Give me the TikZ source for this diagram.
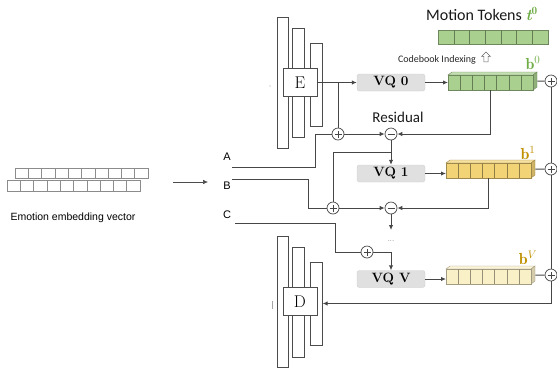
\documentclass[tikz,border=0pt]{standalone}
\usepackage{fontspec}
\usepackage{tikz}
\usetikzlibrary{arrows.meta, calc, positioning, shapes.arrows}
\newfontfamily\calibri{Carlito}
\newfontfamily\arial{Liberation Sans}
\definecolor{tokgreen}{RGB}{169,208,142}
\definecolor{tokyellow}{RGB}{242,211,118}
\definecolor{tokcream}{RGB}{250,240,200}
\definecolor{labgreen}{RGB}{112,173,71}
\definecolor{labgold}{RGB}{191,144,0}
\definecolor{wiregray}{RGB}{70,70,70}

\begin{document}
\begin{tikzpicture}[x=1pt, y=-1pt, every node/.style={inner sep=0pt},
  wire/.style={draw=wiregray, line width=1pt},
  arr/.style={wire, -{Latex[length=5pt, width=4.5pt]}},
  layerbar/.style={draw=black!70, fill=white, line width=0.8pt, minimum width=11.5pt},
  codebox/.style={draw=black!70, fill=white, line width=0.8pt, minimum width=34pt, minimum height=28pt, font=\fontsize{17}{17}\selectfont},
  vqbox/.style={draw=black!20, fill=black!12, rounded corners=2.5pt, minimum width=68pt, minimum height=17pt, font=\fontsize{13.5}{13.5}\selectfont\bfseries},
  sumnode/.style={circle, draw=wiregray, fill=white, line width=0.7pt, minimum size=12pt},
  plusnode/.style={sumnode, path picture={\draw[wiregray, line width=0.6pt] ([xshift=-3.5pt]path picture bounding box.center) -- ([xshift=3.5pt]path picture bounding box.center) ([yshift=-3.5pt]path picture bounding box.center) -- ([yshift=3.5pt]path picture bounding box.center);}},
  minusnode/.style={sumnode, path picture={\draw[wiregray, line width=0.6pt] ([xshift=-3.5pt]path picture bounding box.center) -- ([xshift=3.5pt]path picture bounding box.center);}},
  cell/.style={draw=black!45, line width=0.5pt},
  sidelab/.style={font=\arial\fontsize{11}{11}\selectfont},
  blab/.style={font=\fontsize{16}{16}\selectfont}]
  \useasboundingbox (0,0) rectangle (557,368);

  % emotion embedding
  \foreach \k in {0,...,9} {
    \draw[cell] (15+\k*13.3,168) rectangle ++(13.3,10);
    \draw[cell] (7+\k*13.3,180) rectangle ++(13.3,11);
  }
  \node[font=\arial\fontsize{10.5}{10.5}\selectfont] (embl) at (73,218) {Emotion embedding vector};
  \coordinate (embout) at (173,182);
  \coordinate (abcin) at (208,182);
  \draw[arr, draw=black!70, line width=0.6pt] (embout) -- (abcin);

  % encoder / decoder stacks
  \foreach \nm/\bx/\by/\bh in {ea/283/82.5/131, eb/298.5/82.5/109, ec/316.5/84.5/83, da/283/301.5/131, db/298.5/302/110, dc/316.5/303.5/83}
    \node[layerbar, minimum height=\bh pt] (\nm) at (\bx,\by) {};
  \node[codebox] (enc) at (300,82.5) {E};
  \node[codebox] (dec) at (300,301.5) {D};
  \fill[black!35] (270,86) circle (0.6);
  \draw[black!35, line width=0.6pt] (272,301) -- (272,309);

  % quantizers
  \node[vqbox] (vqz) at (391,82.5) {VQ 0};
  \node[vqbox] (vqo) at (391,173.5) {VQ 1};
  \node[vqbox] (vqv) at (391,279) {VQ V};

  % code bars
  \foreach \nm/\bx/\by/\fc in {bzero/448/75/tokgreen, bone/446/163/tokyellow, bvee/446/269/tokcream} {
    \filldraw[fill=\fc!70!white, draw=\fc!65!black, line width=0.4pt] (\bx,\by) -- ++(4,-3) -- ++(85,0) -- ++(-4,3) -- cycle;
    \filldraw[fill=\fc!85!black, draw=\fc!65!black, line width=0.4pt] (\bx+85,\by) -- ++(4,-3) -- ++(0,15) -- ++(-4,3) -- cycle;
    \node[draw=\fc!65!black, fill=\fc, line width=0.4pt, minimum width=85pt, minimum height=15pt, anchor=north west] (\nm) at (\bx,\by) {};
    \foreach \k in {1,...,6} \draw[\fc!60!black, line width=0.4pt] (\bx+\k*85/7,\by) -- ++(0,15);
  }
  \node[draw=tokgreen!65!black, fill=tokgreen, line width=0.4pt, minimum width=110pt, minimum height=14pt] (tokens) at (493,37) {};
  \foreach \k in {1,...,6} \draw[tokgreen!60!black, line width=0.4pt] (438+\k*110/7,30) -- ++(0,14);

  % sums
  \node[plusnode] (pz) at (551,81) {};
  \node[plusnode] (po) at (551,169) {};
  \node[plusnode] (pv) at (551,275) {};
  \node[plusnode] (pa) at (338,134) {};
  \node[minusnode] (ma) at (391,134) {};
  \node[plusnode] (pb) at (333,208) {};
  \node[minusnode] (mb) at (391,208) {};
  \node[plusnode] (pc) at (367,252) {};

  % texts
  \node[font=\calibri\fontsize{16}{16}\selectfont, text=black!90] (mt) at (482,14) {Motion Tokens \textcolor{labgreen}{{\rmfamily\bfseries\itshape t}$^{\mathbf{0}}$}};
  \node[font=\calibri\fontsize{10}{10}\selectfont, text=black!85] (cbi) at (437,60) {Codebook Indexing};
  \node[single arrow, draw=black!60, line width=0.5pt, shape border rotate=90, minimum height=10pt, minimum width=9pt, single arrow head extend=1.5pt, inner sep=1pt] (upar) at (486,58) {};
  \node[font=\calibri\fontsize{15}{15}\selectfont, text=black!90] (res) at (398,117) {Residual};
  \node[blab, text=labgreen] (lbz) at (533,63) {$\mathbf{b}^{0}$};
  \node[blab, text=labgold] (lbo) at (528,153) {$\mathbf{b}^{1}$};
  \node[blab, text=labgold] (lbv) at (528,258) {$\mathbf{b}^{V}$};
  \node[sidelab] (la) at (227,157) {A};
  \node[sidelab] (lb) at (227,186) {B};
  \node[sidelab] (lc) at (227,215) {C};
  \node[font=\fontsize{6}{6}\selectfont] (gap) at (391,241) {...};

  % wiring
  \coordinate (ain) at (232,167);
  \coordinate (bin) at (232,179);
  \coordinate (cin) at (235,223);
  \draw[arr] (enc.east) -- (vqz.west);
  \coordinate (ej) at (enc.east -| pa);
  \draw[wire] (ej) -- (pa.north);
  \draw[wire] (ain) -- ++(83,0) |- (pa.west);
  \draw[wire] (bin) -- ++(76,0) |- (pb.west);
  \draw[wire] (cin) -- ++(100,0) |- (pc.west);
  \draw[arr] (pa) -- (ma);
  \draw[arr] (bzero.south) |- (ma.east);
  \draw[arr] (ma) -- (vqo);
  \coordinate (tap) at ($(ma.south)!0.5!(vqo.north)$);
  \draw[wire] (tap) -| (pb.north);
  \draw[arr] (pb) -- (mb);
  \draw[arr] (bone.south) |- (mb.east);
  \draw[arr] (mb) -- ++(0,22);
  \draw[arr] (pc) -| (vqv.north);
  \draw[arr] (vqz.east) -- (vqz.east -| bzero.west);
  \draw[arr] (vqo.east) -- (vqo.east -| bone.west);
  \draw[arr] (vqv.east) -- (vqv.east -| bvee.west);
  \foreach \b/\p in {bzero/pz, bone/po, bvee/pv} \draw[wire] ($(\b.east)+(4,-1.5)$) -- (\p.west);
  \draw[wire] (pz) -- (po);
  \draw[wire] (po) -- (pv);
  \draw[arr] (pv) |- (dc.east);
\end{tikzpicture}
\end{document}
